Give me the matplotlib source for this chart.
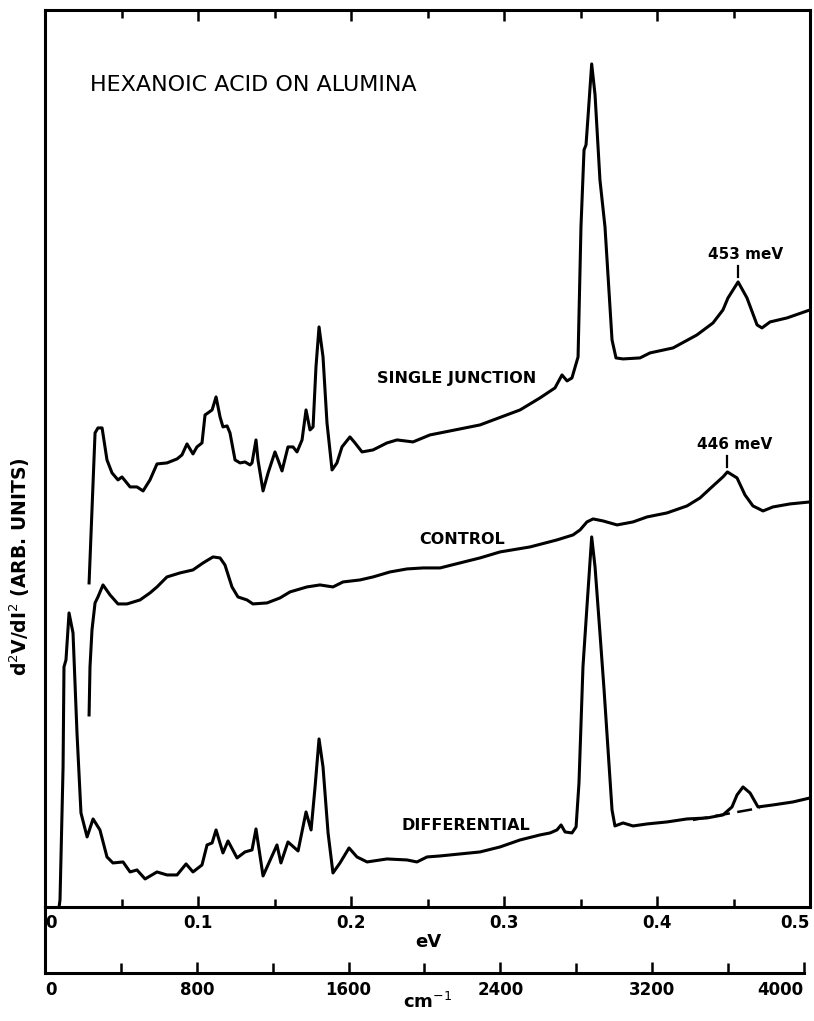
import numpy as np
import matplotlib.pyplot as plt
from matplotlib.ticker import MultipleLocator, FixedLocator

# energies in meV, signal in arb. units (height above the eV axis)
sj_mev = [28.8, 32.7, 34.6, 37.3, 40.5, 43.8, 47.7, 50.3, 55.6, 60.1, 64.1, 68.6, 73.2, 79.7,
          86.3, 89.5, 92.8, 96.7, 99.3, 102.6, 104.6, 106.5, 109.2, 111.8, 114.4, 116.3, 119.0,
          120.9, 124.2, 127.5, 130.7, 134.0, 135.3, 137.9, 139.2, 142.5, 145.8, 150.3, 152.3,
          154.9, 158.8, 162.1, 164.7, 168.0, 170.6, 173.2, 175.2, 177.1, 179.1, 181.7, 184.3,
          187.6, 190.8, 194.1, 199.3, 202.6, 207.2, 214.4, 223.5, 230.1, 240.5, 251.6, 258.2,
          284.3, 310.5, 323.5, 333.3, 337.9, 341.2, 344.4, 348.4, 350.3, 352.3, 353.6, 354.9,
          357.3, 359.5, 362.7, 366.0, 370.6, 373.2, 377.8, 388.9, 395.4, 410.5, 426.1, 436.6,
          443.1, 446.4, 453.0, 458.8, 465.4, 468.6, 473.9, 485.0, 500.0]
sj_sig = [324, 474, 479, 479, 447, 434, 427, 430, 420, 420, 416, 427, 443, 444,
          448, 452, 463, 453, 460, 464, 492, 494, 497, 510, 490, 480, 481,
          474, 447, 444, 445, 442, 444, 467, 447, 416, 434, 455, 447,
          436, 460, 460, 455, 467, 497, 477, 480, 540, 580, 550, 484,
          437, 444, 460, 470, 464, 455, 457, 464, 467, 465, 472, 474,
          482, 497, 509, 519, 532, 526, 529, 550, 680, 757, 762, 790,
          843, 812, 727, 680, 567, 549, 548, 549, 554, 559, 572, 584,
          597, 609, 625, 609, 582, 579, 585, 589, 597]

ctl_mev = [28.8, 29.4, 30.7, 32.7, 34.6, 37.9, 42.5, 47.7, 53.6, 62.1, 68.6, 73.2, 79.7, 88.2,
           96.7, 103.3, 109.8, 114.4, 117.6, 122.2, 126.1, 132.0, 135.9, 145.1, 153.6, 160.1,
           171.2, 179.7, 188.2, 194.8, 205.9, 214.4, 225.5, 236.6, 247.1, 258.2, 271.2, 284.3,
           297.4, 317.0, 334.6, 345.1, 349.7, 354.2, 358.2, 364.7, 373.9, 384.3, 393.5, 406.5,
           419.6, 428.1, 436.6, 443.1, 446.0, 452.3, 457.5, 462.7, 469.3, 475.8, 486.9, 500.0]
ctl_sig = [192, 240, 277, 304, 310, 322, 312, 303, 303, 307, 314, 320, 330, 334,
           337, 344, 350, 349, 342, 320, 310, 307, 303, 304, 309, 315,
           320, 322, 320, 325, 327, 330, 335, 338, 339, 339, 344, 349,
           355, 360, 367, 372, 377, 385, 388, 386, 382, 385, 390, 394,
           401, 409, 421, 430, 435, 429, 412, 401, 396, 400, 403, 405]

dif_mev = [9.2, 9.8, 11.8, 12.4, 13.7, 15.7, 18.3, 20.9, 23.5, 27.5, 31.4, 35.9, 40.5, 44.4,
           51.0, 55.6, 60.1, 65.4, 73.2, 79.7, 86.3, 92.2, 96.7, 102.6, 105.9, 109.2, 111.8,
           116.3, 119.6, 125.5, 130.7, 135.3, 137.9, 142.5, 151.6, 154.2, 158.8, 165.4, 170.6,
           173.9, 176.5, 179.1, 181.7, 185.0, 188.2, 192.8, 198.7, 203.9, 210.5, 223.5, 236.6,
           243.1, 249.7, 258.2, 284.3, 297.4, 310.5, 323.5, 330.1, 334.6, 337.3, 339.9, 344.4,
           347.1, 349.0, 351.6, 354.2, 357.3, 359.5, 362.7, 365.4, 368.0, 370.6, 372.5, 377.8,
           384.3, 393.5, 406.5, 419.6, 432.7, 443.1, 449.0, 452.3, 456.2, 460.8, 466.0, 475.8,
           488.9, 500.0]
dif_sig = [0, 7, 140, 240, 247, 294, 274, 174, 94, 70, 88, 77, 50, 44,
           45, 35, 37, 28, 35, 32, 32, 43, 35, 42, 62, 64, 77,
           54, 66, 49, 55, 57, 78, 31, 62, 44, 65, 56, 95,
           77, 120, 168, 140, 74, 34, 44, 59, 50, 45, 48, 47,
           45, 50, 51, 55, 60, 67, 72, 74, 77, 82, 75, 74,
           80, 124, 240, 300, 370, 340, 274, 217, 157, 97, 81, 84,
           81, 83, 85, 88, 89, 92, 100, 112, 120, 114, 100, 102,
           105, 109]

# dashed baseline under the differential 450 meV band
base_mev = [423.5, 467.3]
base_sig = [87, 99]

peak_mev = [453, 446]
peak_sig = [625, 435]
peak_text = ['453 meV', '446 meV']

ev_ticks = [0, 0.1, 0.2, 0.3, 0.4, 0.5]
ev_labels = ['0', '0.1', '0.2', '0.3', '0.4', '0.5']
cm_ticks = [0, 800, 1600, 2400, 3200, 4000]

plt.rcParams['font.family'] = ['DejaVu Sans']
fig = plt.figure(figsize=(8.14, 10.21), dpi=100)
ax = fig.add_axes([0.0553, 0.1117, 0.9398, 0.8786])

lw = 2.2
ax.plot(np.array(sj_mev) / 1000, sj_sig, color='black', lw=lw, solid_joinstyle='round')
ax.plot(np.array(ctl_mev) / 1000, ctl_sig, color='black', lw=lw, solid_joinstyle='round')
ax.plot(np.array(dif_mev) / 1000, dif_sig, color='black', lw=lw, solid_joinstyle='round')
ax.plot(np.array(base_mev) / 1000, base_sig, color='black', lw=1.8, dashes=(6, 3))

for m, s, t in zip(peak_mev, peak_sig, peak_text):
    ax.plot([m / 1000, m / 1000], [s + 5, s + 16], color='black', lw=1.6)
    ax.text(m / 1000 + 0.005, s + 27, t, ha='center', va='center', fontsize=11, fontweight='bold')

ax.text(0.0294, 822, 'HEXANOIC ACID ON ALUMINA', ha='left', va='center', fontsize=16)
ax.text(0.269, 528, 'SINGLE JUNCTION', ha='center', va='center', fontsize=11.5, fontweight='bold')
ax.text(0.2725, 367, 'CONTROL', ha='center', va='center', fontsize=11.5, fontweight='bold')
ax.text(0.275, 81, 'DIFFERENTIAL', ha='center', va='center', fontsize=11.5, fontweight='bold')

ax.set_xlim(0, 0.5)
ax.set_ylim(0, 897)
ax.set_yticks([])
ax.xaxis.set_major_locator(FixedLocator(ev_ticks))
ax.set_xticklabels(ev_labels, fontsize=12, fontweight='bold')
ax.xaxis.set_minor_locator(MultipleLocator(0.05))
ax.tick_params(axis='x', which='both', direction='in', top=True, width=1.8, pad=5)
ax.tick_params(axis='x', which='major', length=8)
ax.tick_params(axis='x', which='minor', length=6)
labs = ax.get_xticklabels()
labs[0].set_ha('left')
labs[-1].set_ha('right')
for sp in ax.spines.values():
    sp.set_linewidth(2.2)

# wavenumber scale below
ax2 = fig.add_axes([0.0553, 0.0470, 0.9398, 0.0646])
ax2.set_xlim(0, 0.5 * 8065.54)
ax2.set_yticks([])
ax2.spines['top'].set_visible(False)
ax2.spines['right'].set_visible(False)
ax2.spines['bottom'].set_bounds(0, 4000)
for sp in ax2.spines.values():
    sp.set_linewidth(2.2)
ax2.xaxis.set_major_locator(FixedLocator(cm_ticks))
ax2.set_xticklabels([str(c) for c in cm_ticks], fontsize=12, fontweight='bold')
ax2.xaxis.set_minor_locator(MultipleLocator(400))
ax2.tick_params(axis='x', which='both', direction='in', width=1.8, pad=6)
ax2.tick_params(axis='x', which='major', length=8)
ax2.tick_params(axis='x', which='minor', length=7)
labs2 = ax2.get_xticklabels()
labs2[0].set_ha('left')
labs2[-1].set_ha('right')
ax2.patch.set_alpha(0)

fig.text(428 / 814, 1 - 942 / 1021, 'eV', ha='center', va='center', fontsize=13, fontweight='bold')
fig.text(428 / 814, 1 - 1002 / 1021, 'cm$^{-1}$', ha='center', va='center', fontsize=13, fontweight='bold')
fig.text(20 / 814, 1 - 567 / 1021, 'd$^2$V/dI$^2$ (ARB. UNITS)', ha='center', va='center',
         rotation=90, fontsize=13.5, fontweight='bold')

fig.savefig('out.png', dpi=100)
